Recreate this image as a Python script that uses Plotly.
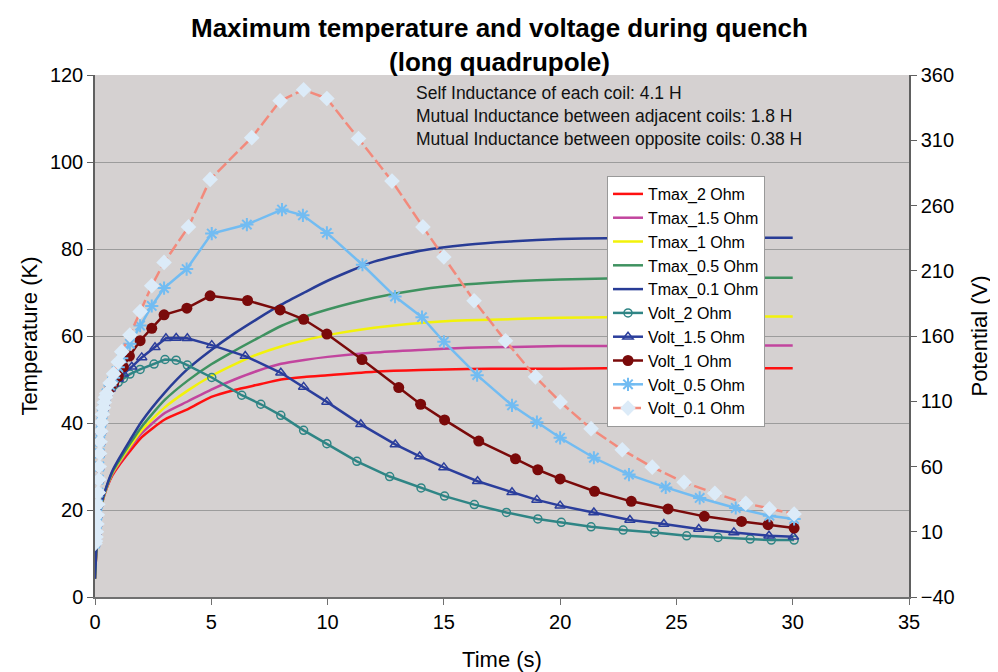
import plotly.graph_objects as go

# ---------------- data ----------------
t_tmax = [0, 0.05, 0.1, 0.2, 0.3, 0.5, 0.75, 1, 1.5, 2, 3, 4, 5, 6, 7, 8, 9, 10,
          12, 14, 16, 18, 20, 22, 24, 26, 28, 30]
tmax_2 = [4.2, 10, 14, 18.5, 21.5, 25, 28, 30, 33.5, 36.7, 40.8, 43.2, 46, 47.6, 48.8, 50, 50.6, 51,
          51.8, 52.2, 52.4, 52.5, 52.5, 52.6, 52.6, 52.6, 52.6, 52.6]
tmax_15 = [4.2, 10, 14, 18.6, 21.6, 25.1, 28.3, 30.4, 34.2, 37.6, 42.3, 45, 47.7, 50, 52, 53.6, 54.5, 55.2,
           56.2, 56.8, 57.3, 57.5, 57.7, 57.7, 57.8, 57.8, 57.8, 57.8]
tmax_1 = [4.2, 10, 14, 18.7, 21.7, 25.2, 28.5, 30.7, 34.6, 38.3, 43.6, 47.5, 50.8, 53.5, 55.8, 57.6, 59, 60.2,
          61.9, 63, 63.6, 63.9, 64.2, 64.3, 64.4, 64.4, 64.5, 64.5]
tmax_05 = [4.2, 10, 14, 18.8, 21.8, 25.3, 28.7, 31, 35.2, 39.1, 45.3, 49.8, 53.5, 56.6, 59.5, 62.3, 64.4, 66.1,
           68.8, 70.7, 71.9, 72.6, 73, 73.2, 73.3, 73.4, 73.4, 73.4]
tmax_01 = [4.2, 10, 14, 19, 22, 25.5, 29, 31.5, 36, 40.3, 47, 52.5, 56.8, 60.6, 64, 67.2, 70, 72.7,
           77.1, 79.6, 81, 81.8, 82.3, 82.5, 82.6, 82.6, 82.6, 82.6]

# fast initial rise shared by all voltage curves
t_early = [0, 0.02, 0.04, 0.06, 0.08, 0.1, 0.12, 0.14, 0.16, 0.18, 0.2, 0.22, 0.25, 0.28,
           0.32, 0.36, 0.4, 0.45, 0.5]
v_early = [1, 3, 6, 10, 16, 23, 31, 40, 50, 60, 70, 79, 87, 94, 100, 105, 109, 113, 116]

t_v2 = t_early + [0.65, 0.8, 1.0, 1.22, 1.5, 1.94, 2.54, 3.01, 3.49, 3.97, 5.02, 6.31, 7.13, 7.99, 8.97,
                  9.97, 11.26, 12.67, 14.02, 15.03, 16.31, 17.69, 19.04, 20.05, 21.33, 22.71, 24.06,
                  25.44, 26.79, 28.17, 29.08, 30.06]
v_2 = v_early + [119, 122, 124.5, 127.5, 130.8, 134.4, 138.5, 142, 141.5, 137.7, 128.2, 114.6, 107.7, 99.2,
                 87.7, 77.5, 64, 52.3, 43.6, 37.3, 30.8, 24.8, 19.8, 17.2, 13.8, 11.3, 9.5, 6.9, 5.6,
                 4.4, 3.6, 3.6]

t_v15 = t_early + [0.65, 0.8, 1.0, 1.22, 1.58, 2.01, 2.58, 3.05, 3.49, 3.97, 5.02, 6.46, 7.99, 8.97, 9.97,
                   11.43, 12.91, 13.96, 15.0, 16.45, 17.93, 19.0, 20.0, 21.45, 23.0, 24.46, 25.96,
                   27.47, 28.98, 30.03]
v_15 = v_early + [119.5, 123, 127, 131, 136.4, 143.6, 151.3, 158.2, 158.5, 158.2, 153, 144.6, 131.8, 121,
                  109.5, 92.3, 76.9, 67.7, 59.3, 48.7, 40.2, 34.4, 30, 24.8, 19, 15.9, 12.1, 9.5, 6.9, 6.2]

t_v1 = t_early + [0.65, 0.8, 1.0, 1.22, 1.48, 1.94, 2.44, 2.97, 3.95, 4.95, 6.56, 7.96, 8.97, 9.97, 11.48,
                  13.06, 14.0, 15.03, 16.5, 18.08, 19.04, 20.0, 21.48, 23.06, 24.64, 26.2, 27.8,
                  28.94, 30.06]
v_1 = v_early + [120, 124, 129, 136.4, 144.6, 156.4, 165.9, 176.2, 181.3, 190.8, 187.2, 180, 172.8, 161.5,
                 142, 120.5, 107.7, 95.7, 79.5, 65.9, 57.5, 50.5, 41, 33.3, 27.5, 21.8, 17.9, 15.4, 12.8]

t_v05 = t_early + [0.65, 0.8, 1.0, 1.15, 1.5, 1.94, 2.44, 2.97, 3.94, 5.02, 6.53, 8.04, 8.94, 9.97, 11.5,
                   12.9, 14.06, 15.0, 16.43, 17.93, 19.0, 20.0, 21.45, 22.96, 24.54, 26.0, 27.55,
                   29.0, 30.06]
v_05 = v_early + [122, 128, 136, 143, 154, 168, 183, 196.7, 211.3, 238.5, 245.4, 256.9, 252.5, 239, 214.6,
                  190.2, 174.4, 155.6, 130, 106.9, 94, 82, 66.7, 53.8, 44, 35.9, 28.2, 22.3, 19.8]

t_v01 = t_early + [0.65, 0.8, 1.0, 1.15, 1.5, 1.94, 2.44, 2.97, 4.02, 4.95, 6.74, 7.96, 8.97, 9.97, 11.33,
                   12.77, 14.1, 15.0, 16.3, 17.65, 18.94, 20.0, 21.33, 22.67, 23.96, 25.33, 26.65,
                   27.98, 29.0, 30.06]
v_01 = v_early + [124, 131, 140, 148, 160.8, 178.7, 198.5, 216.4, 243.6, 280, 312, 340.2, 348.7, 342, 311.3,
                  278.7, 243.6, 220.5, 187, 156.4, 128.7, 109.5, 89, 72.8, 59.5, 47.9, 39.5, 31.8,
                  27.5, 23.6]

title_lines = ["Maximum temperature and voltage during quench", "(long quadrupole)"]
note_lines = ["Self Inductance of each coil: 4.1 H",
              "Mutual Inductance between adjacent coils: 1.8 H",
              "Mutual Inductance between opposite coils: 0.38 H"]

FONT = "Liberation Sans, Arial, sans-serif"

fig = go.Figure()

tmax_specs = [
    ("Tmax_2 Ohm", tmax_2, "#FF1010"),
    ("Tmax_1.5 Ohm", tmax_15, "#C2459E"),
    ("Tmax_1 Ohm", tmax_1, "#F2F20A"),
    ("Tmax_0.5 Ohm", tmax_05, "#3F9260"),
    ("Tmax_0.1 Ohm", tmax_01, "#283C96"),
]
for name, vals, col in tmax_specs:
    fig.add_trace(go.Scatter(x=t_tmax, y=vals, name=name, mode="lines",
                             line=dict(color=col, width=2.5, shape="spline", smoothing=0.6),
                             yaxis="y"))

fig.add_trace(go.Scatter(x=t_v2, y=v_2, name="Volt_2 Ohm", mode="lines+markers", yaxis="y2",
                         line=dict(color="#2F8585", width=2.5),
                         marker=dict(symbol="circle-open", size=8, color="#2F8585",
                                     line=dict(width=1.5, color="#2F8585"))))
fig.add_trace(go.Scatter(x=t_v15, y=v_15, name="Volt_1.5 Ohm", mode="lines+markers", yaxis="y2",
                         line=dict(color="#2B3E9C", width=2.5),
                         marker=dict(symbol="triangle-up-open", size=9, color="#2B3E9C",
                                     line=dict(width=1.5, color="#2B3E9C"))))
fig.add_trace(go.Scatter(x=t_v1, y=v_1, name="Volt_1 Ohm", mode="lines+markers", yaxis="y2",
                         line=dict(color="#7A0A0A", width=2.5),
                         marker=dict(symbol="circle", size=11, color="#7A0A0A")))
fig.add_trace(go.Scatter(x=t_v05, y=v_05, name="Volt_0.5 Ohm", mode="lines+markers", yaxis="y2",
                         line=dict(color="#72BCF2", width=2.5),
                         marker=dict(symbol="asterisk-open", size=11, color="#72BCF2",
                                     line=dict(width=2, color="#72BCF2"))))
fig.add_trace(go.Scatter(x=t_v01, y=v_01, name="Volt_0.1 Ohm", mode="lines+markers", yaxis="y2",
                         line=dict(color="#F28A7C", width=2.5, dash="12px,4px"),
                         marker=dict(symbol="diamond", size=12, color="#DCEBF8")))

# page has an 8px body margin, so the figure is sized to fit the 998x672 window
fig.update_layout(
    width=990, height=664,
    margin=dict(l=87, r=89, t=67, b=75),
    paper_bgcolor="white",
    plot_bgcolor="#D5D1D1",
    font=dict(family=FONT, color="#000000"),
    showlegend=True,
    legend=dict(x=0.629, y=0.8065, xanchor="left", yanchor="top",
                bgcolor="white", bordercolor="#999999", borderwidth=1,
                font=dict(size=16, family=FONT), tracegroupgap=0, itemwidth=30),
    xaxis=dict(range=[0, 35], dtick=5, tick0=0, showgrid=False, zeroline=False,
               showline=True, linecolor="#707070", linewidth=1.5,
               ticks="outside", ticklen=6, tickcolor="#707070",
               tickfont=dict(size=20, family=FONT),
               title=dict(text="Time (s)", font=dict(size=22, family=FONT), standoff=22),
               automargin=False),
    yaxis=dict(range=[0, 120], dtick=20, tick0=0, showgrid=True, gridcolor="#9C9C9C", gridwidth=1,
               zeroline=False, showline=True, linecolor="#606060", linewidth=1.5,
               ticks="outside", ticklen=6, tickcolor="#606060",
               tickfont=dict(size=20, family=FONT),
               title=dict(text="Temperature (K)", font=dict(size=22, family=FONT), standoff=6),
               automargin=False),
    yaxis2=dict(range=[-40, 360], dtick=50, tick0=-40, overlaying="y", side="right",
                showgrid=False, zeroline=False, showline=True, linecolor="#606060", linewidth=1.5,
                ticks="outside", ticklen=6, tickcolor="#606060",
                tickfont=dict(size=20, family=FONT),
                title=dict(text="Potential (V)", font=dict(size=22, family=FONT), standoff=18),
                automargin=False),
)

# title lines
for txt, ypos in zip(title_lines, [1.090, 1.025]):
    fig.add_annotation(text="<b>" + txt + "</b>", xref="paper", yref="paper",
                       x=0.4975, y=ypos, xanchor="center", yanchor="middle",
                       showarrow=False, font=dict(size=26, family=FONT, color="#000000"))

fig.add_annotation(text="<br>".join(note_lines), xref="paper", yref="paper",
                   x=0.392, y=0.9885, xanchor="left", yanchor="top", align="left",
                   showarrow=False, font=dict(size=17.5, family=FONT, color="#111111"))

fig.write_html("out.html")
